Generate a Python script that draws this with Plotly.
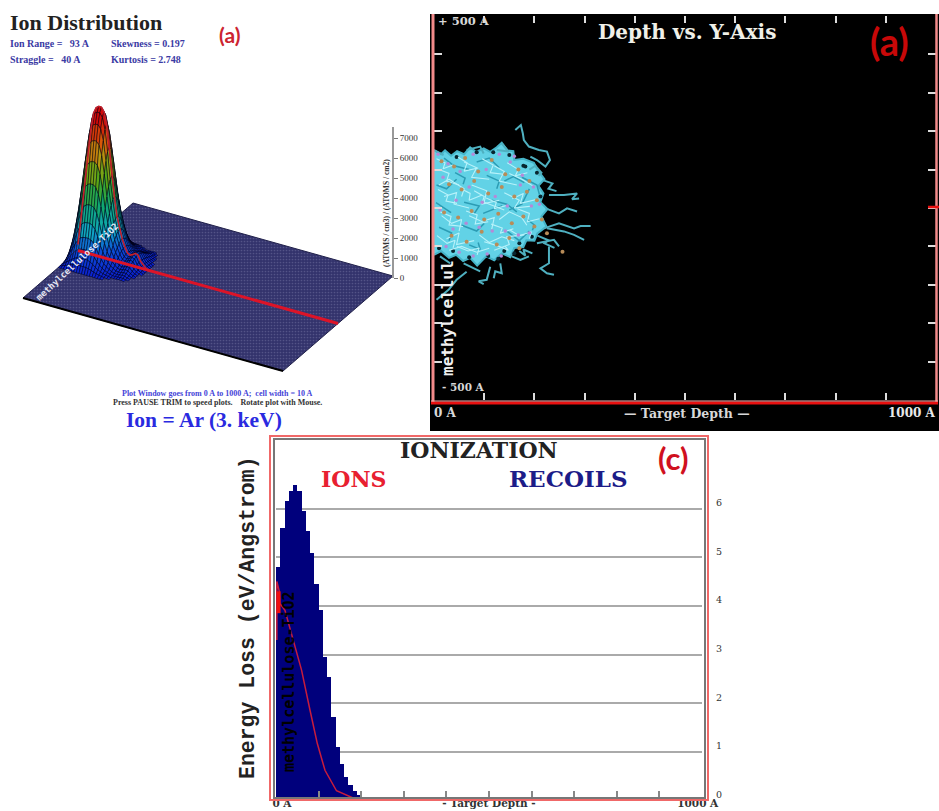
import plotly.graph_objects as go
from plotly.colors import sample_colorscale

W, H = 939, 811

# ---------- panel (a) left : ion distribution ----------
depth_A = [0, 10, 20, 30, 40, 50, 60, 70, 80, 90, 100, 110, 120, 130, 140, 150, 160, 170, 180, 190, 200, 210, 220, 230, 240, 250, 260, 270]
ion_density = [300, 1500, 2700, 3900, 5200, 6300, 7100, 7400, 7500, 7500, 7300, 6700, 5600, 4200, 3200, 2250, 1650, 1200, 850, 580, 500, 560, 660, 620, 350, 180, 80, 0]
lateral_A = [-180, -165, -150, -135, -120, -105, -90, -75, -60, -45, -30, -15, 0, 15, 30, 45, 60, 75, 90, 105, 120, 135, 150, 165, 180]
lateral_share = [0.0, 0.04, 0.08, 0.13, 0.2, 0.29, 0.4, 0.53, 0.67, 0.8, 0.9, 0.97, 1.0, 0.97, 0.9, 0.8, 0.67, 0.53, 0.4, 0.29, 0.2, 0.13, 0.08, 0.04, 0.0]
plate_depth = [0, 1000, 1000, 0, 0]
plate_lateral = [-500, -500, 500, 500, -500]
density_ticks = [0, 1000, 2000, 3000, 4000, 5000, 6000, 7000]

# ---------- panel (a) right : depth vs y tracks (Angstrom) ----------
cloud_x = [0, 14, 22, 34, 46, 60, 72, 84, 99, 112, 125, 135, 146, 158, 160, 178, 199, 208, 220, 208, 218, 212, 226, 214, 224, 206, 200, 184, 178, 160, 152, 135, 120, 104, 86, 72, 58, 44, 30, 14, 0]
cloud_y = [151, 140, 150, 136, 148, 140, 158, 146, 155, 146, 158, 170, 150, 148, 125, 128, 118, 96, 75, 58, 38, 15, -3, -22, -48, -66, -85, -84, -102, -104, -128, -118, -136, -126, -150, -130, -138, -122, -130, -112, -122]
track_x = [162, 173, 177, 179, 189, 209, 225, 231, 222, 205, 192, None,
           229, 259, 285, 275, 289, None,
           222, 249, 265, 285, None,
           219, 249, 279, 292, 312, None,
           225, 259, 279, 299, None,
           205, 239, 249, None,
           229, 229, 212, 225, 239, None,
           155, 172, 189, None,
           132, 135, 122, 119, None,
           112, 105, 89, 99, None,
           65, 45, 29, 5, None,
           65, 92, 99, None,
           135, 149, 125, None,
           59, 92, None,
           12, 32, None,
           0, 19, None,
           218, 236, 228, 244, None,
           206, 228, 220, 240, None,
           190, 202, 214, 208, None,
           170, 182, 178, 196]
track_y = [203, 216, 194, 177, 160, 151, 147, 125, 108, 125, 134, None,
           34, 34, 38, 23, 25, None,
           -1, -14, -1, -9, None,
           -53, -40, -53, -47, -47, None,
           -53, -61, -70, -83, None,
           -92, -83, -100, None,
           -100, -144, -157, -170, -174, None,
           -126, -135, -126, None,
           -144, -170, -165, -183, None,
           -153, -187, -191, -198, None,
           -166, -187, -213, -239, None,
           151, 160, 142, None,
           168, 147, 151, None,
           -144, -165, None,
           -126, -144, None,
           151, 138, None,
           72, 64, 50, 44, None,
           -72, -84, -92, -104, None,
           100, 110, 92, 84, None,
           -112, -124, -108, -118]
white_x = [10, 30, 25, 50, None, 60, 85, 75, 110, None, 120, 140, 130, 165, None, 20, 45, 40, 70, None,
           80, 100, 95, 130, None, 140, 170, 160, 195, None, 15, 35, 55, 50, None, 70, 95, 120, 115, None,
           130, 150, 175, 185, None, 25, 50, 45, 80, None, 90, 110, 135, 160, None, 10, 30, 60, 55, None,
           75, 105, 100, 140, None, 150, 175, 200, None, 30, 55, 85, 110, None, 120, 150, 145, 180, None,
           5, 22, 18, 38, None, 48, 66, 60, 88, None, 96, 118, 112, 138, None, 146, 168, 162, 186, None,
           8, 28, 24, 46, None, 54, 72, 70, 96, None, 104, 124, 120, 148, None, 156, 178, 172, 204, None,
           12, 34, 30, 58, None, 64, 86, 82, 108, None, 114, 136, 132, 158, None, 166, 190, 186, 210, None,
           6, 26, 42, 38, None, 46, 68, 90, 86, None, 100, 126, 148, 142, None, 152, 170, 194, 190]
white_y = [100, 90, 70, 60, None, 120, 105, 80, 75, None, 110, 95, 70, 60, None, 30, 40, 10, 0, None,
           45, 30, 10, 20, None, 40, 20, 0, 5, None, -20, -40, -30, -60, None, -20, -35, -25, -55, None,
           -30, -10, -25, -45, None, -80, -65, -95, -85, None, -70, -90, -75, -85, None, 60, 75, 50, 30, None,
           60, 45, 15, -5, None, 90, 75, 55, None, -110, -100, -115, -105, None, -110, -95, -75, -70, None,
           128, 118, 102, 112, None, 132, 118, 96, 104, None, 128, 112, 92, 88, None, 118, 100, 84, 92, None,
           48, 34, 18, 12, None, 50, 38, 20, 34, None, 26, 14, -2, 8, None, 24, 38, 12, 22, None,
           -10, -22, -44, -48, None, -8, -18, -42, -36, None, -42, -52, -66, -54, None, -2, -14, -36, -28, None,
           -72, -92, -84, -104, None, -100, -112, -104, -122, None, -88, -98, -110, -100, None, -58, -72, -62, -80]
orange_x = [15, 40, 62, 88, 115, 142, 168, 190, 30, 55, 80, 108, 135, 160, 185, 205, 20, 48, 75, 100, 128, 155, 178, 200, 35, 65, 95, 125, 150, 170, 225, 215, 256]
orange_y = [122, 108, 130, 95, 125, 88, 100, 70, 62, 48, 70, 38, 55, 30, 42, 20, -12, -25, -8, -30, -15, -40, -22, -48, -72, -88, -62, -95, -78, -105, -66, -30, -114]
purple_x = [8, 28, 52, 78, 104, 130, 152, 176, 198, 18, 44, 70, 96, 122, 146, 172, 194, 12, 38, 64, 90, 116, 142, 168, 190, 24, 50, 78, 106, 134, 210, 160]
purple_y = [140, 115, 95, 140, 100, 140, 120, 85, 55, 80, 20, 55, 15, 30, 5, 60, 5, -5, -55, -40, -50, -60, -60, -70, -65, -100, -115, -125, -120, -125, 10, 135]
hole_x = [45, 85, 118, 150, 182, 205, 212, 195, 170, 140, 108, 70, 38, 10, 160, 128, 178]
hole_y = [133, 145, 145, 138, 108, 92, 30, -75, -92, -112, -125, -128, -112, -105, -118, -132, 110]
teal_x = [5, 25, 45, None, 60, 90, 80, None, 105, 130, 125, None, 150, 175, 190, None, 10, 35, 30, None, 55, 85, 100, None,
          115, 145, 165, None, 175, 205, 210, None, 20, 40, 70, None, 85, 110, 130, None, 145, 170, 190, None,
          4, 18, 34, None, 42, 62, 58, None, 98, 116, 136, None, 140, 158, 180, None, 186, 200, 196, None, 70, 92, 88]
teal_y = [60, 50, 75, None, 15, 5, -15, None, 85, 70, 50, None, -5, 10, 50, None, -50, -65, -85, None, -45, -60, -40, None,
          20, 10, -10, None, 80, 60, 35, None, 130, 110, 100, None, 120, 130, 105, None, -60, -85, -60, None,
          14, 2, -12, None, 92, 78, 62, None, -14, -4, 6, None, 70, 82, 66, None, -30, -44, -58, None, -96, -108, -90]
xy_ticks = [-500, -400, -300, -200, -100, 0, 100, 200, 300, 400, 500]
depth_ticks = [0, 100, 200, 300, 400, 500, 600, 700, 800, 900, 1000]
depth_label_x = [14, 500, 990]
depth_label_y = [-0.09, -0.09, -0.09]
depth_labels = ["<b>0 A</b>", "<b>- Target Depth -</b>", "<b>1000 A</b>"]

# ---------- panel (c) : ionization ----------
recoil_bins = [5, 15, 25, 35, 45, 55, 65, 75, 85, 95, 105, 115, 125, 135, 145, 155, 165, 175, 185, 195, 205, 215, 225, 235, 245, 255, 265, 275, 285]
recoil_loss = [4.8, 5.6, 6.15, 6.37, 6.49, 6.37, 5.94, 5.53, 5.08, 4.46, 3.91, 2.95, 2.54, 1.72, 1.1, 0.76, 0.48, 0.31, 0.2, 0.12, 0.08, 0.05, 0.04, 0.03, 0.02, 0.02, 0.01, 0.01, 0.01]
ion_depth = [2, 2, 8, 9, 21, 41, 60, 80, 97, 115, 142, 181, 212]
ion_loss = [3.3, 4.5, 4.29, 4.05, 3.91, 3.3, 2.68, 1.85, 1.17, 0.62, 0.2, 0.05, 0.03]
spike_depth = [6, 6]
spike_loss = [3.85, 4.3]
loss_ticks = [0, 1, 2, 3, 4, 5, 6]


def fx(p):
    return p / W


def fy(p):
    return 1 - p / H


# oblique drawing of the target plate (axis units: screen pixels of the left panel)
def sx(d, l):
    return 78 + 0.26 * d - 0.11 * l


def sy(d, l, h=0):
    return 250.5 + 0.073 * d + 0.095 * l - 0.02 * h


SERIF = "DejaVu Serif"
LSERIF = "Liberation Serif"
RAIN = [[0, "#0c20d0"], [0.13, "#0c50d8"], [0.25, "#10a8c4"], [0.42, "#10a870"], [0.58, "#4aa818"],
        [0.72, "#b0a010"], [0.85, "#d85808"], [1, "#d40808"]]

fig = go.Figure()


def add(tr):
    tr.update(showlegend=False, hoverinfo="skip")
    fig.add_trace(tr)


# plate
add(go.Scatter(x=[sx(d, l) for d, l in zip(plate_depth, plate_lateral)],
               y=[sy(d, l) for d, l in zip(plate_depth, plate_lateral)],
               mode="lines", fill="toself", fillcolor="#34346e",
               fillpattern=dict(shape=".", fgcolor="rgba(190,190,225,0.45)", bgcolor="#33336c", size=3, solidity=0.25),
               line=dict(color="#20204a", width=1), xaxis="x", yaxis="y"))
add(go.Scatter(x=[sx(0, 500), sx(1000, 500)], y=[sy(0, 500), sy(1000, 500)], mode="lines",
               line=dict(color="#000000", width=2), xaxis="x", yaxis="y"))

# surface quads, back to front
for j in range(len(lateral_A) - 1):
    for i in range(len(depth_A) - 1):
        ds = [depth_A[i], depth_A[i + 1], depth_A[i + 1], depth_A[i], depth_A[i]]
        ls = [lateral_A[j], lateral_A[j], lateral_A[j + 1], lateral_A[j + 1], lateral_A[j]]
        hs = [ion_density[i] * lateral_share[j], ion_density[i + 1] * lateral_share[j],
              ion_density[i + 1] * lateral_share[j + 1], ion_density[i] * lateral_share[j + 1],
              ion_density[i] * lateral_share[j]]
        if max(hs) < 60:
            continue
        c = sample_colorscale(RAIN, [min(1.0, sum(hs[:4]) / 4 / 7000)])[0]
        add(go.Scatter(x=[sx(d, l) for d, l in zip(ds, ls)], y=[sy(d, l, h) for d, l, h in zip(ds, ls, hs)],
                       mode="lines", fill="toself", fillcolor=c,
                       line=dict(color="rgba(0,0,20,0.85)", width=0.6), xaxis="x", yaxis="y"))

# red profile and centre line
add(go.Scatter(x=[sx(d, 0) for d in depth_A], y=[sy(d, 0, h) for d, h in zip(depth_A, ion_density)], mode="lines",
               line=dict(color="#c4202c", width=1.6), xaxis="x", yaxis="y"))
add(go.Scatter(x=[sx(0, 0), sx(1000, 0)], y=[sy(0, 0), sy(1000, 0)], mode="lines",
               line=dict(color="#dc1428", width=3), xaxis="x", yaxis="y"))
# density scale axis carrier
add(go.Scatter(x=[393, 393], y=[0, 7000], mode="lines", line=dict(color="rgba(0,0,0,0)", width=0), xaxis="x", yaxis="y4"))

# tracks
add(go.Scatter(x=cloud_x, y=cloud_y, mode="lines", fill="toself", fillcolor="#62d2e6",
               line=dict(color="#46b4c8", width=2), xaxis="x2", yaxis="y2"))
add(go.Scatter(x=hole_x, y=hole_y, mode="markers", marker=dict(color="#082630", size=4), xaxis="x2", yaxis="y2"))
add(go.Scatter(x=track_x, y=track_y, mode="lines", line=dict(color="#4fb0c0", width=2), xaxis="x2", yaxis="y2"))
add(go.Scatter(x=teal_x, y=teal_y, mode="lines", line=dict(color="#2c9cb4", width=1.5), xaxis="x2", yaxis="y2"))
add(go.Scatter(x=white_x, y=white_y, mode="lines", line=dict(color="#b8f2fa", width=1.1), xaxis="x2", yaxis="y2"))
add(go.Scatter(x=orange_x, y=orange_y, mode="markers", marker=dict(color="#b88c58", size=4), xaxis="x2", yaxis="y2"))
add(go.Scatter(x=purple_x, y=purple_y, mode="markers", marker=dict(color="#b48ad8", size=3.5), xaxis="x2", yaxis="y2"))

# ionization
add(go.Bar(x=recoil_bins, y=recoil_loss, width=10, marker=dict(color="#00007c", line=dict(width=0)), xaxis="x3", yaxis="y3"))
add(go.Scatter(x=ion_depth, y=ion_loss, mode="lines", line=dict(color="#c81c3c", width=1.5), xaxis="x3", yaxis="y3"))
add(go.Scatter(x=spike_depth, y=spike_loss, mode="lines", line=dict(color="#f01010", width=4), xaxis="x3", yaxis="y3"))
add(go.Scatter(x=depth_label_x, y=depth_label_y, text=depth_labels, mode="text", cliponaxis=False,
               textfont=dict(family=SERIF, size=10.5, color="#333333"), textposition="middle center", xaxis="x3", yaxis="y3"))

shapes = [
    dict(type="rect", xref="paper", yref="paper", x0=fx(430), x1=fx(939), y0=fy(431), y1=fy(14),
         fillcolor="#000000", line=dict(width=0), layer="below"),
    dict(type="line", xref="paper", yref="paper", x0=fx(433), x1=fx(433), y0=fy(403), y1=fy(14), line=dict(color="#f28a8a", width=3)),
    dict(type="line", xref="paper", yref="paper", x0=fx(936.5), x1=fx(936.5), y0=fy(403), y1=fy(14), line=dict(color="#f28a8a", width=2.5)),
    dict(type="line", xref="paper", yref="paper", x0=fx(431), x1=fx(938), y0=fy(403), y1=fy(403), line=dict(color="#e81010", width=3)),
    dict(type="line", xref="paper", yref="paper", x0=fx(431), x1=fx(938), y0=fy(401), y1=fy(401), line=dict(color="#f4b0b0", width=1)),
    dict(type="line", xref="paper", yref="paper", x0=fx(928), x1=fx(939), y0=fy(207), y1=fy(207), line=dict(color="#e81010", width=2.5)),
    dict(type="rect", xref="paper", yref="paper", x0=fx(270), x1=fx(708), y0=fy(800), y1=fy(436), line=dict(color="#f06868", width=2)),
    dict(type="rect", xref="paper", yref="paper", x0=fx(274), x1=fx(705), y0=fy(798), y1=fy(439), line=dict(color="#777777", width=2)),
]
fig.update_layout(shapes=shapes)


def txt(x, y, s, size, color, family=LSERIF, anchor="left", angle=0, bold=True):
    fig.add_annotation(xref="paper", yref="paper", x=fx(x), y=fy(y), text=f"<b>{s}</b>" if bold else s, showarrow=False,
                       xanchor=anchor, yanchor="middle", textangle=angle,
                       font=dict(family=family, size=size, color=color), borderpad=0, borderwidth=0)


NAVY = "#3a3aa4"
txt(10, 22, "Ion Distribution", 22, "#222222")
txt(10, 44, "Ion Range =   93 A", 10, NAVY)
txt(111, 44, "Skewness = 0.197", 10, NAVY)
txt(10, 59, "Straggle =   40 A", 10, NAVY)
txt(111, 59, "Kurtosis = 2.748", 10, NAVY)
txt(229, 35, "(a)", 21, "#cc2430", "Lato", "center")
txt(77, 262, "methylcellulose-TiO2", 9, "#e6e6f2", "DejaVu Sans Mono", "center", -43)
txt(386, 213, "(ATOMS / cm3) / (ATOMS / cm2)", 7.5, "#333333", LSERIF, "center", -90)
txt(217, 394, "Plot Window goes from 0 A to 1000 A;  cell width = 10 A", 8, "#4444d8", LSERIF, "center")
txt(217, 403, "Press PAUSE TRIM to speed plots.    Rotate plot with Mouse.", 8, "#333333", LSERIF, "center")
txt(204, 420, "Ion = Ar (3. keV)", 21.5, "#2a2ae0", LSERIF, "center")

txt(438, 21, "+ 500 A", 11.5, "#d8d8d8", SERIF)
txt(442, 387, "- 500 A", 10.5, "#d8d8d8", SERIF)
txt(687, 32, "Depth vs. Y-Axis", 20, "#f0f0e8", SERIF, "center")
txt(889, 41, "(a)", 38, "#c80808", "Lato", "center")
txt(447, 318, "methylcellul", 16, "#f0f0f0", "DejaVu Sans Mono", "center", -90)
txt(434, 413, "0 A", 12, "#d8d8d8", SERIF)
txt(687, 413, "— Target Depth —", 12.5, "#d8d8d8", SERIF, "center")
txt(936, 413, "1000 A", 12, "#e8e8e8", SERIF, "right")

txt(479, 450, "IONIZATION", 22, "#222222", SERIF, "center")
txt(353, 479, "IONS", 22, "#e82030", SERIF, "center")
txt(568, 479, "RECOILS", 23, "#1c1c88", SERIF, "center")
txt(673, 458, "(c)", 31, "#d01020", "Lato", "center")
txt(248, 618, "Energy Loss (eV/Angstrom)", 21.5, "#222222", "Liberation Mono", "center", -90, bold=True)
txt(289, 682, "methylcellulose-TiO2", 15, "#000000", "DejaVu Sans Mono", "center", -90)

hidden = dict(visible=False)
fig.update_layout(
    width=W, height=H, autosize=False, margin=dict(l=0, r=0, t=0, b=0, autoexpand=False), paper_bgcolor="#ffffff", plot_bgcolor="rgba(0,0,0,0)",
    showlegend=False, barmode="overlay", bargap=0,
    xaxis=dict(domain=[0, fx(428)], range=[0, 428], **hidden),
    yaxis=dict(domain=[fy(431), 1], range=[431, 0], **hidden),
    yaxis4=dict(domain=[fy(278), fy(127)], range=[0, 7550], anchor="free", position=fx(393), side="right",
                tickvals=density_ticks, ticks="outside", ticklen=4, tickcolor="#777777", showline=True, linecolor="#999999", linewidth=2,
                showgrid=False, zeroline=False, tickfont=dict(family=LSERIF, size=9, color="#333333"), tickprefix="<b>", ticksuffix="</b>"),
    xaxis2=dict(domain=[fx(434), fx(936)], range=[0, 1000], anchor="y2", tickvals=depth_ticks, ticks="inside", ticklen=7,
                tickcolor="#dddddd", tickwidth=1.5, mirror="allticks", showticklabels=False, showgrid=False, zeroline=False, showline=False),
    yaxis2=dict(domain=[fy(400), fy(16)], range=[-500, 500], anchor="x2", tickvals=xy_ticks, ticks="inside", ticklen=8,
                tickcolor="#dddddd", tickwidth=1.5, mirror="allticks", showticklabels=False, showgrid=False, zeroline=False, showline=False),
    xaxis3=dict(domain=[fx(276), fx(702)], range=[0, 1000], anchor="free", position=fy(797.5), tickvals=depth_ticks, ticks="inside", ticklen=7,
                tickcolor="#888888", tickwidth=1.5, showticklabels=False, showgrid=False, zeroline=False, showline=False),
    yaxis3=dict(domain=[0, fy(439)], range=[-0.216, 7.43], anchor="x3", side="right", tickvals=loss_ticks, ticks="", showline=False,
                showgrid=True, gridcolor="#aaaaaa", gridwidth=1.5, zeroline=False, ticklabelstandoff=13, ticklabelshift=-6,
                tickfont=dict(family=SERIF, size=9.5, color="#333333"), tickprefix="<b>", ticksuffix="</b>"),
)

fig.write_html("out.html", config={"displayModeBar": False},
               post_script="document.body.style.margin='0';document.body.style.overflow='hidden';")
